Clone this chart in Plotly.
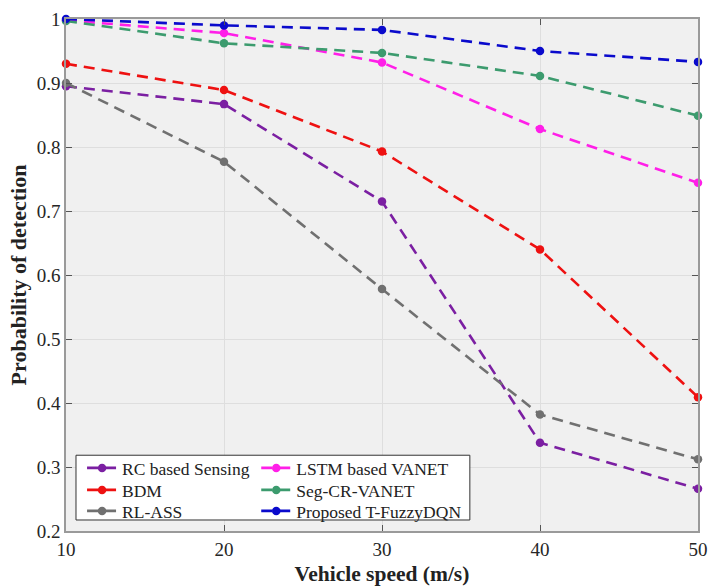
import plotly.graph_objects as go

speeds = [10, 20, 30, 40, 50]
rc_sensing = [0.895, 0.867, 0.715, 0.338, 0.266]
bdm = [0.930, 0.889, 0.793, 0.640, 0.409]
rl_ass = [0.900, 0.777, 0.578, 0.382, 0.312]
lstm_vanet = [0.998, 0.978, 0.932, 0.828, 0.744]
seg_cr_vanet = [0.997, 0.962, 0.947, 0.911, 0.849]
proposed = [1.000, 0.990, 0.983, 0.950, 0.933]

y_ticks = [0.2, 0.3, 0.4, 0.5, 0.6, 0.7, 0.8, 0.9, 1.0]
y_ticktext = ["0.2", "0.3", "0.4", "0.5", "0.6", "0.7", "0.8", "0.9", "1"]

series_names = ["RC based Sensing", "BDM", "RL-ASS",
                "LSTM based VANET", "Seg-CR-VANET", "Proposed T-FuzzyDQN"]
series_values = [rc_sensing, bdm, rl_ass, lstm_vanet, seg_cr_vanet, proposed]
series_colors = ["#7B1FA2", "#EE1111", "#707070", "#FF1FE8", "#3C9B6E", "#0A0ACC"]

# legend slot placement (two columns of three rows inside one box)
col_x = [0.0254, 0.0254, 0.0254, 0.301, 0.301, 0.301]
row_y = [0.123, 0.080, 0.039, 0.123, 0.080, 0.039]

font = "Liberation Serif, Times New Roman, serif"
fig = go.Figure()
legend_layout = {}
for i, (name, vals, col) in enumerate(zip(series_names, series_values, series_colors)):
    lg = "legend" if i == 0 else f"legend{i + 1}"
    fig.add_trace(go.Scatter(
        x=speeds, y=vals, name=name, mode="lines+markers",
        line=dict(color=col, width=2.6, dash="11px,7px"),
        marker=dict(color=col, size=8.5),
        cliponaxis=False, legend=lg,
    ))
    legend_layout[lg] = dict(
        orientation="v", x=col_x[i], y=row_y[i], xanchor="left", yanchor="middle",
        bgcolor="rgba(0,0,0,0)", borderwidth=0,
        font=dict(family=font, size=17.5, color="#222222"),
        itemwidth=30,
    )

fig.update_layout(
    width=709, height=586,
    margin=dict(l=66, r=11, t=19, b=55),
    paper_bgcolor="white",
    plot_bgcolor="#F0F0F0",
    font=dict(family=font, size=19, color="#262626"),
    showlegend=True,
    shapes=[dict(
        type="rect", xref="paper", yref="paper",
        x0=0.0158, x1=0.639, y0=0.0215, y1=0.148,
        fillcolor="white", line=dict(color="#333333", width=1), layer="above",
    )],
    **legend_layout,
)
fig.update_xaxes(
    range=[10, 50], tickvals=speeds, ticks="inside", ticklen=6, automargin=False,
    tickcolor="#555555", showline=True, linecolor="#9A9A9A", linewidth=1.5,
    mirror="ticks", showgrid=True, gridcolor="#DEDEDE", zeroline=False,
    title=dict(text="<b>Vehicle speed (m/s)</b>", font=dict(family=font, size=21.5, color="#222222"), standoff=8),
    tickfont=dict(family=font, size=19, color="#262626"),
)
fig.update_yaxes(
    range=[0.2, 1.0], tickvals=y_ticks, ticktext=y_ticktext, ticks="inside", ticklen=6, automargin=False,
    tickcolor="#555555", showline=True, linecolor="#9A9A9A", linewidth=1.5,
    mirror="ticks", showgrid=True, gridcolor="#DEDEDE", zeroline=False,
    title=dict(text="<b>Probability of detection</b>", font=dict(family=font, size=22, color="#222222"), standoff=4),
    tickfont=dict(family=font, size=19, color="#262626"),
)

fig.write_html("out.html")
